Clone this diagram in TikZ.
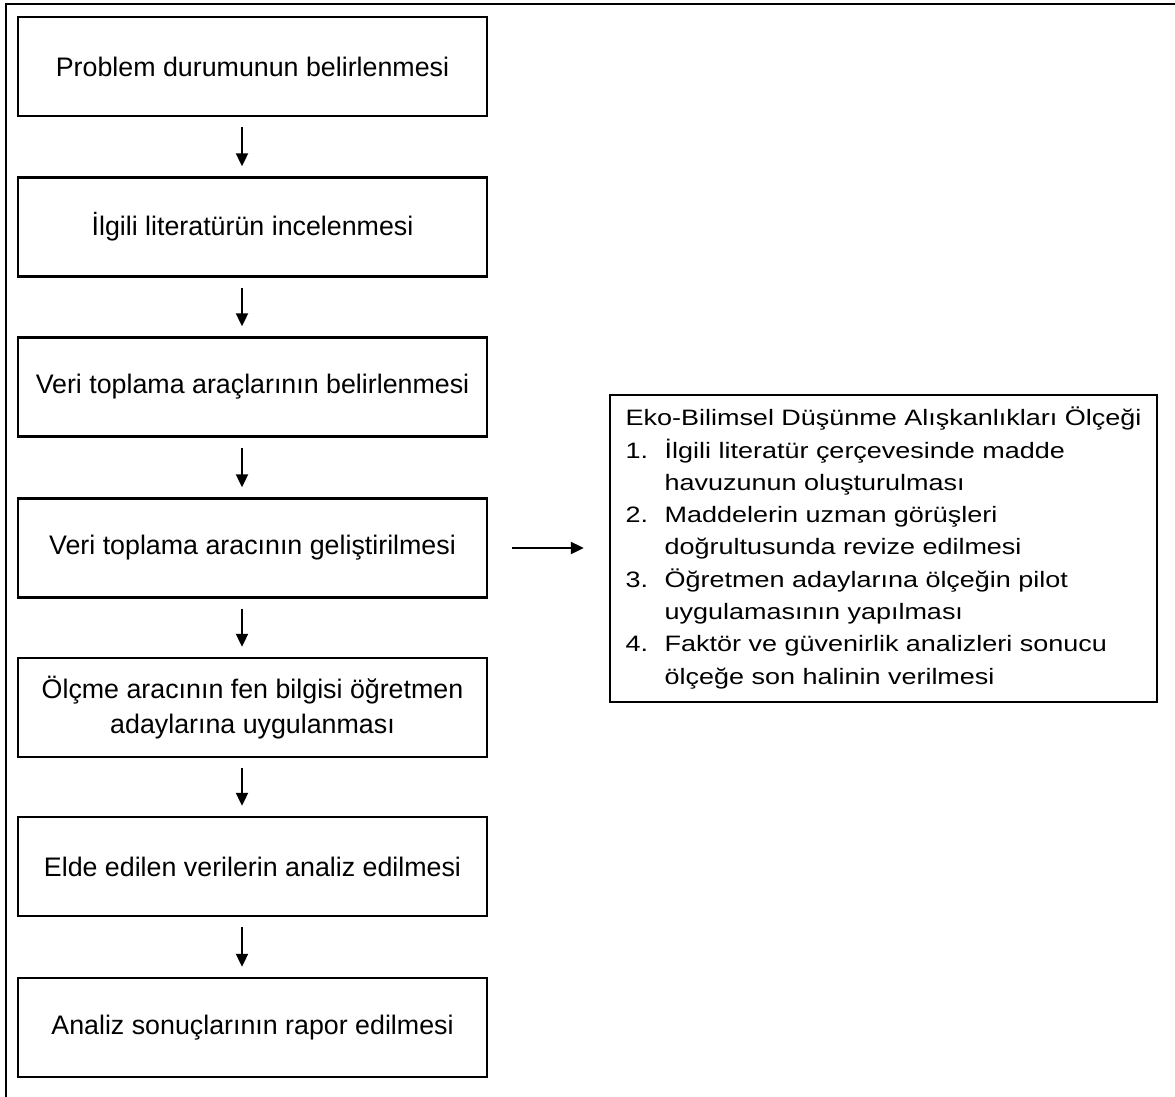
\documentclass[tikz,border=0pt]{standalone}
\usepackage{fontspec}
\setmainfont{Liberation Sans}
\newfontfamily\widefont[FakeStretch=1.21]{Liberation Sans}
\usetikzlibrary{arrows.meta}
\begin{document}
\begin{tikzpicture}[x=1bp,y=-1bp,
  stepbox/.style={draw, line width=2.4bp, minimum width=469bp, minimum height=99bp,
    inner sep=0pt, align=center, font=\fontsize{26.8bp}{35bp}\selectfont},
  arr/.style={-{Triangle[length=13bp,width=12bp]}, line width=2.1bp},
  downarr/.style={arr, shorten <=10bp, shorten >=10bp}]
\useasboundingbox (0,0) rectangle (1175,1097);
\draw[line width=1.9bp] (6,1100) -- (6,4) -- (1180,4);

\node[stepbox] (b1) at (252.5,66.5) {Problem durumunun belirlenmesi};
\node[stepbox] (b2) at (252.5,227) {İlgili literatürün incelenmesi};
\node[stepbox] (b3) at (252.5,387) {Veri toplama araçlarının belirlenmesi};
\node[stepbox] (b4) at (252.5,548) {Veri toplama aracının geliştirilmesi};
\node[stepbox] (b5) at (252.5,707.5) {Ölçme aracının fen bilgisi öğretmen\\adaylarına uygulanması};
\node[stepbox] (b6) at (252.5,866.5) {Elde edilen verilerin analiz edilmesi};
\node[stepbox] (b7) at (252.5,1027.5) {Analiz sonuçlarının rapor edilmesi};

\node[draw, line width=2.4bp, minimum width=547bp, minimum height=307bp, inner sep=0pt,
  font=\widefont\fontsize{22.3bp}{32.3bp}\selectfont] (sc) at (883.5,548.5) {%
  \begin{tabular}{@{}l@{}l@{}}
  \multicolumn{2}{@{}l@{}}{Eko-Bilimsel Düşünme Alışkanlıkları Ölçeği}\\
  \makebox[39bp][l]{1.} & İlgili literatür çerçevesinde madde\\
   & havuzunun oluşturulması\\
  \makebox[39bp][l]{2.} & Maddelerin uzman görüşleri\\
   & doğrultusunda revize edilmesi\\
  \makebox[39bp][l]{3.} & Öğretmen adaylarına ölçeğin pilot\\
   & uygulamasının yapılması\\
  \makebox[39bp][l]{4.} & Faktör ve güvenirlik analizleri sonucu\\
   & ölçeğe son halinin verilmesi
  \end{tabular}};

\draw[downarr] ([xshift=-10.5bp]b1.south) -- ([xshift=-10.5bp]b2.north);
\draw[downarr] ([xshift=-10.5bp]b2.south) -- ([xshift=-10.5bp]b3.north);
\draw[downarr] ([xshift=-10.5bp]b3.south) -- ([xshift=-10.5bp]b4.north);
\draw[downarr] ([xshift=-10.5bp]b4.south) -- ([xshift=-10.5bp]b5.north);
\draw[downarr] ([xshift=-10.5bp]b5.south) -- ([xshift=-10.5bp]b6.north);
\draw[downarr] ([xshift=-10.5bp]b6.south) -- ([xshift=-10.5bp]b7.north);
\draw[arr] ([xshift=24bp]b4.east) -- ([xshift=-25bp]b4.east -| sc.west);
\end{tikzpicture}
\end{document}
